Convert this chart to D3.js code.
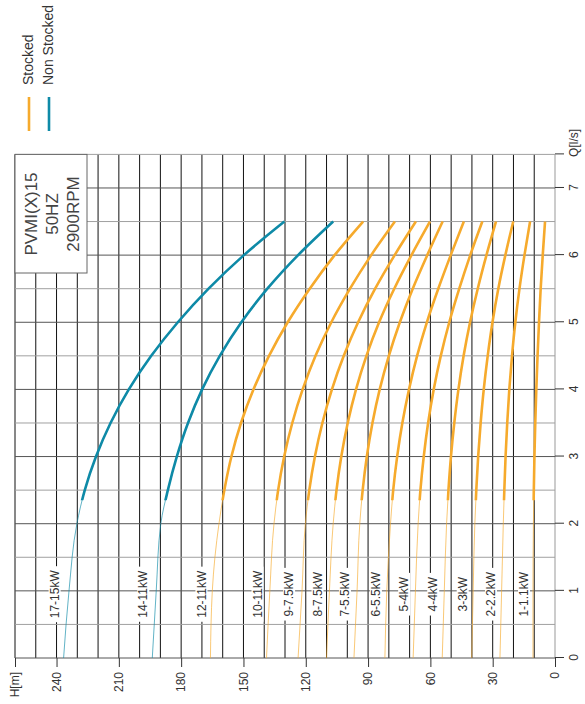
<!DOCTYPE html>
<html>
<head>
<meta charset="utf-8">
<script src="https://cdn.jsdelivr.net/npm/d3@7"></script>
<style>
body { margin: 0; background: #fff; }
text { font-family: "Liberation Sans", Arial, sans-serif; }
</style>
</head>
<body>
<svg width="585" height="704"></svg>
<script>
// flow points (l/s) where the head of every curve was read
var qFlow = [0, 1, 2, 2.5, 3, 3.5, 4, 4.5, 5, 5.5, 6, 6.5];
var models = ["17-15kW", "14-11kW", "12-11kW", "10-11kW", "9-7.5kW", "8-7.5kW", "7-5.5kW",
              "6-5.5kW", "5-4kW", "4-4kW", "3-3kW", "2-2.2kW", "1-1.1kW"];
var stocked = [false, false, true, true, true, true, true, true, true, true, true, true, true];
var head = [
    [236.6, 234, 230.2, 226.4, 221, 214, 205.2, 194.4, 181.6, 166.8, 149.8, 130.3],
    [193.9, 192, 189.8, 186.4, 182.1, 176.7, 169.9, 161.4, 151, 138.5, 123.7, 106.8],
    [165.9, 165, 161.8, 159.2, 155.8, 151.2, 145.2, 137.7, 128.7, 118.1, 106.1, 92.4],
    [138.9, 137.3, 135.3, 133.3, 130.4, 126.5, 121.5, 115.3, 107.7, 98.7, 88.5, 77.1],
    [123.7, 121.8, 120.2, 118.3, 115.6, 112, 107.4, 101.7, 94.8, 86.6, 77.2, 67],
    [110, 108.6, 106.8, 105.2, 102.9, 99.8, 95.8, 90.8, 84.7, 77.4, 69.1, 60.2],
    [96.8, 95.3, 94, 92.6, 90.6, 87.9, 84.4, 80, 74.7, 68.5, 61.5, 54.1],
    [81.9, 81, 79.2, 77.9, 76, 73.5, 70.3, 66.4, 61.7, 56.2, 50.2, 43.9],
    [68.3, 67.2, 65.9, 64.8, 63.2, 61.1, 58.4, 55, 50.9, 46.1, 40.8, 35],
    [54.3, 53.3, 52.2, 51.3, 50.1, 48.5, 46.5, 44, 40.9, 37.2, 33, 28.4],
    [40.1, 39.4, 38.6, 37.9, 37, 35.8, 34.3, 32.4, 30.1, 27.3, 23.9, 20.1],
    [26.5, 25.7, 24.9, 24.4, 23.8, 23, 22, 20.7, 19.1, 17.1, 14.7, 12],
    [10.6, 10.6, 10.4, 10.2, 9.9, 9.5, 9, 8.4, 7.7, 6.9, 5.9, 4.8]
];
var hTicks = [0, 30, 60, 90, 120, 150, 180, 210, 240];
var qTicks = [0, 1, 2, 3, 4, 5, 6, 7];
var rangeStart = 2.35; // thick part of the curves starts here
var infoLines = ["PVMI(X)15", "50HZ", "2900RPM"];

var orange = "#f6aa2c", blue = "#0e8aa7";

var svg = d3.select("svg");
var w = 503.6, h = 540;
// the whole chart is drawn lying on its side
var g = svg.append("g").attr("transform", "translate(15,658) rotate(-90)");

var x = d3.scaleLinear().domain([0, 7.5]).range([0, w]);
var y = d3.scaleLinear().domain([0, 260]).range([h, 0]);

// grid
g.selectAll(".hgrid").data(d3.range(0, 261, 10)).enter().append("line")
    .attr("x1", 0).attr("x2", w)
    .attr("y1", function (d) { return y(d); }).attr("y2", function (d) { return y(d); })
    .attr("stroke", function (d) { return d === 0 ? "#999" : "#111"; })
    .attr("stroke-width", 1);
g.selectAll(".qgrid").data(d3.range(0, 7.51, 0.5)).enter().append("line")
    .attr("y1", 0).attr("y2", h)
    .attr("x1", function (d) { return x(d); }).attr("x2", function (d) { return x(d); })
    .attr("stroke", function (d) { return d % 1 === 0 ? "#555" : "#a0a0a0"; })
    .attr("stroke-width", 1);

// axes
var hAxis = g.append("g")
    .call(d3.axisLeft(y).tickValues(hTicks.concat([260])).tickSize(9).tickPadding(5)
        .tickFormat(function (d) { return d === 260 ? "H[m]" : d; }));
var qAxis = g.append("g").attr("transform", "translate(0," + h + ")")
    .call(d3.axisBottom(x).tickValues(qTicks.concat([7.5])).tickSize(9).tickPadding(5)
        .tickFormat(function (d) { return d === 7.5 ? "Q[l/s]" : d; }));
[hAxis, qAxis].forEach(function (a) {
    a.select(".domain").remove();
    a.selectAll("line").attr("stroke", "#333");
    a.selectAll("text").attr("fill", "#333").style("font-size", "12px")
        .style("font-family", "'Liberation Sans', Arial, sans-serif");
});
qAxis.selectAll("text").filter(function (d) { return d === 7.5; })
    .attr("text-anchor", "start").attr("x", -3);

// info box
g.append("rect").attr("x", 385).attr("y", 0).attr("width", w - 385).attr("height", 72)
    .attr("fill", "#fff").attr("stroke", "#666");
g.selectAll(".info").data(infoLines).enter().append("text")
    .attr("x", 444).attr("y", function (d, i) { return 22 + i * 21; })
    .attr("text-anchor", "middle").attr("fill", "#444").style("font-size", "17px")
    .text(function (d) { return d; });

// model labels
models.forEach(function (m, i) {
    var lg = g.append("g").attr("transform", "translate(" + x(0.95) + "," + (y(head[i][0]) - 9) + ")");
    var t = lg.append("text").attr("text-anchor", "middle").attr("dy", "0.35em")
        .attr("fill", "#333").style("font-size", "12px").text(m);
    var len = t.node().getComputedTextLength();
    lg.insert("rect", "text").attr("x", -len / 2 - 4).attr("y", -6).attr("width", len + 8)
        .attr("height", 12).attr("fill", "#fff");
});

// curves
g.append("clipPath").attr("id", "range").append("rect")
    .attr("x", x(rangeStart)).attr("y", -10).attr("width", w).attr("height", h + 20);

var line = d3.line()
    .x(function (d, i) { return x(qFlow[i]); })
    .y(function (d) { return y(d); })
    .curve(d3.curveMonotoneX);

head.forEach(function (hs, i) {
    var c = stocked[i] ? orange : blue;
    g.append("path").attr("d", line(hs)).attr("fill", "none")
        .attr("stroke", c).attr("stroke-width", 1).attr("opacity", 0.65);
    g.append("path").attr("d", line(hs)).attr("fill", "none")
        .attr("stroke", c).attr("stroke-width", 2.6).attr("clip-path", "url(#range)");
});

// legend
var legend = [["Stocked", orange], ["Non Stocked", blue]];
legend.forEach(function (l, i) {
    g.append("line").attr("x1", 527).attr("x2", 561)
        .attr("y1", 14 + i * 20).attr("y2", 14 + i * 20)
        .attr("stroke", l[1]).attr("stroke-width", 2.6);
    g.append("text").attr("x", 573).attr("y", 18 + i * 20)
        .attr("fill", "#333").style("font-size", "14px").text(l[0]);
});
</script>
</body>
</html>
